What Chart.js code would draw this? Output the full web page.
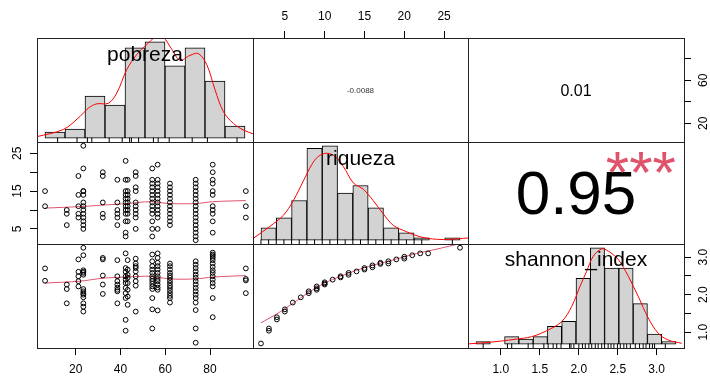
<!DOCTYPE html>
<html>
<head>
<meta charset="utf-8">
<title>chart.Correlation</title>
<script src="https://cdn.jsdelivr.net/npm/chart.js@4.4.0/dist/chart.umd.min.js"></script>
<style>
  html, body { margin: 0; padding: 0; background: #fff; }
  #wrap { position: relative; width: 710px; height: 376px; overflow: hidden; }
  #wrap canvas { position: absolute; left: 0; top: 0; }
</style>
</head>
<body>
<div id="wrap"></div>
<script>
// ---- Datos ----
// pobreza: valores distintos (columnas de los diagramas de dispersión)
const pobCols = [6.3, 16.0, 21.2, 23.4, 32.1, 38.6, 42.3, 43.2, 46.8, 54.2, 56.6, 62.1, 73.6, 81.2, 96.0];

// riqueza de cada punto por columna de pobreza (fila 2, col 1)
const riqPorCol = [
  [15, 11],
  [10, 9, 6],
  [19, 14, 11, 9, 8],
  [27, 21, 15, 15, 14, 12, 11, 10, 9, 8, 7, 6, 5],
  [20, 19, 12, 9, 8],
  [18, 12, 10, 9, 8, 6],
  [23, 18, 15, 14, 13, 12, 11, 10, 9, 7, 4, 3],
  [18, 15, 14, 13, 12, 11, 10, 9, 7],
  [20, 19, 16, 15, 12, 11, 10, 9, 8, 5],
  [21, 18, 17, 16, 15, 14, 13, 12, 11, 10, 9, 7, 5, 3],
  [22, 18, 17, 16, 15, 14, 13, 12, 11, 10, 9, 8, 5],
  [17, 16, 15, 14, 13, 12, 11, 10, 9, 8, 7, 6],
  [18, 17, 16, 15, 14, 13, 12, 11, 10, 9, 8, 7, 6, 5, 4, 3, 2],
  [22, 20, 18, 17, 15, 14, 11, 10, 9, 7, 4],
  [15, 11, 8]
];

// shannon_index de cada punto por columna de pobreza (fila 3, col 1)
const shanPorCol = [
  [2.70, 2.37],
  [2.27, 2.15, 1.77],
  [2.94, 2.61, 2.49, 2.36, 2.22],
  [3.25, 3.05, 2.65, 2.61, 2.58, 2.53, 2.15, 2.09, 2.04, 2.00, 1.93, 1.77, 1.68, 1.55],
  [2.98, 2.94, 2.51, 2.27, 2.02],
  [2.92, 2.49, 2.36, 2.27, 2.19, 2.13, 2.09, 1.77],
  [3.10, 2.71, 2.61, 2.49, 2.40, 2.31, 2.18, 2.04, 1.91, 1.33, 1.04],
  [2.92, 2.67, 2.53, 2.45, 2.31, 2.13, 1.95, 1.73],
  [2.96, 2.83, 2.76, 2.71, 2.62, 2.49, 2.36, 2.24, 1.55],
  [3.07, 2.89, 2.76, 2.67, 2.58, 2.49, 2.42, 2.36, 2.29, 2.22, 2.15, 1.91, 1.61, 1.10],
  [3.10, 2.98, 2.85, 2.76, 2.67, 2.58, 2.49, 2.42, 2.36, 2.27, 2.19, 2.13, 1.58],
  [2.83, 2.76, 2.67, 2.58, 2.51, 2.45, 2.38, 2.31, 2.24, 2.18, 2.11, 2.04, 1.97, 1.91, 1.79],
  [2.89, 2.80, 2.71, 2.62, 2.53, 2.45, 2.36, 2.27, 2.18, 2.09, 2.00, 1.91, 1.79, 1.59, 1.10, 0.72],
  [3.12, 3.07, 3.03, 2.98, 2.92, 2.83, 2.74, 2.65, 2.58, 2.49, 2.40, 2.31, 2.22, 1.91, 1.40],
  [2.70, 2.42, 2.38, 2.04]
];

// riqueza vs shannon_index (fila 3, col 2)
const rsRiqueza = [2, 3, 3, 4, 4, 5, 5, 6, 7, 8, 8, 9, 9, 9, 10, 10, 10, 11, 12, 12, 13, 13, 14, 15, 15, 16, 16, 17, 17, 18, 18, 19, 20, 20, 21, 22, 23, 27];
const rsShannon = [0.70, 1.10, 1.04, 1.40, 1.34, 1.61, 1.55, 1.79, 1.93, 2.09, 2.04, 2.22, 2.17, 2.13, 2.33, 2.30, 2.27, 2.40, 2.49, 2.46, 2.58, 2.53, 2.62, 2.71, 2.67, 2.78, 2.73, 2.85, 2.82, 2.89, 2.83, 2.94, 3.01, 2.96, 3.05, 3.10, 3.10, 3.25];

// curvas de suavizado (rojo) de los paneles inferiores
const smPobX = [6.3, 21.9, 32.3, 42.8, 53.2, 62.1, 73.6, 81.2, 96];
const smPobRiq = [10.5, 10.9, 11.3, 11.7, 12.2, 11.7, 11.7, 12.2, 12.5];
const smPobShan = [2.31, 2.36, 2.44, 2.47, 2.49, 2.42, 2.42, 2.47, 2.51];
const smRiqX = [2.0, 4.0, 6.0, 8.0, 10.0, 12.0, 14.0, 16.0, 18.0, 20.0, 22.0, 24.0, 27.0];
const smRiqShan = [1.25, 1.49, 1.77, 2.06, 2.31, 2.49, 2.65, 2.78, 2.89, 3.01, 3.12, 3.21, 3.36];

// histogramas (cortes y frecuencias)
const pobBreaks = [0, 10, 20, 30, 40, 50, 60, 70, 80, 90, 100];
const pobCounts = [2, 3, 14, 11, 30, 32, 24, 30, 19, 4];
const riqBreaks = [2, 4, 6, 8, 10, 12, 14, 16, 18, 20, 22, 24, 26, 28];
const riqCounts = [5, 9, 16, 37, 38, 19, 22, 13, 5, 3, 1, 0, 1];
const shanBreaks = [0.6, 0.8, 1.0, 1.2, 1.4, 1.6, 1.8, 2.0, 2.2, 2.4, 2.6, 2.8, 3.0, 3.2, 3.4];
const shanCounts = [1, 0, 3, 2, 3, 7, 9, 26, 38, 30, 30, 16, 4, 1];

// densidades (rojo) en las mismas unidades que las frecuencias
const pobDensX = [-4.2, 9.2, 17.5, 21.7, 25.9, 31.7, 35.9, 40.9, 45.9, 50.9, 55, 59.2, 63.4, 67.5, 72.5, 76.7, 80.9, 85, 89.2, 94.2, 99.2, 104.2];
const pobDensY = [0.47, 2.9, 7.2, 10, 11.4, 11.6, 15, 22.8, 27.8, 31.1, 33.4, 33.4, 29.5, 25.9, 27.5, 28.1, 24.4, 16.1, 8.8, 4.9, 2.7, 1.4];
const riqDensX = [1.0, 3.18, 4.92, 6.22, 7.53, 8.63, 9.49, 10.59, 11.67, 12.75, 14.06, 15.37, 16.67, 17.98, 19.28, 21.03, 22.77, 24.95, 26.69, 28.43, 29.04];
const riqDensY = [0.75, 5.6, 10, 15.9, 23.8, 30.4, 33.7, 35, 33.7, 29.7, 23.1, 20.5, 15.9, 10.6, 6, 3.4, 1.4, 0.36, 0.36, 0.75, 0.87];
const shanDensX = [0.488, 0.726, 0.96, 1.146, 1.38, 1.612, 1.80, 1.94, 2.056, 2.15, 2.242, 2.36, 2.452, 2.592, 2.732, 2.872, 3.012, 3.152, 3.29, 3.48];
const shanDensY = [0.1, 0.58, 1.25, 1.92, 2.96, 5.6, 8.9, 14.9, 22.8, 28.8, 34.7, 37.6, 36.7, 33.4, 26.8, 18.8, 10.3, 4.3, 1.65, 0.34];

// marcas (rug) bajo los histogramas
const riqRug = [2, 3, 4, 5, 6, 7, 8, 9, 10, 11, 12, 13, 14, 15, 16, 17, 18, 19, 20, 21, 22, 23, 27];
const shanRug = [0.70, 1.04, 1.10, 1.33, 1.40, 1.55, 1.61, 1.68, 1.73, 1.79, 1.91, 1.93, 1.97, 2.04, 2.09, 2.13, 2.18, 2.22, 2.27, 2.31, 2.36, 2.40, 2.45, 2.49, 2.53, 2.58, 2.62, 2.67, 2.71, 2.76, 2.83, 2.89, 2.94, 2.98, 3.03, 3.07, 3.10, 3.25];

// ejes: rangos y marcas
const pobRange = [2.7, 99.2];
const riqRange = [1.0, 28.0];
const shanRange = [0.58, 3.35];
const pobTicks = [20, 40, 60, 80];
const riqTicks = [5, 10, 15, 20, 25];
const shanTicks = [1.0, 1.5, 2.0, 2.5, 3.0];

// textos de correlación
const corr = { pobRiq: '-0.0088', pobShan: '0.01', riqShan: '0.95', riqShanSig: '***' };

// ---- Construcción ----
const W = 710, H = 376;
const colX = [37, 253, 468, 684];
const rowY = [38, 142, 244, 348];
const FONT = "'Liberation Sans', Arial, sans-serif";
Chart.defaults.font.family = FONT;
const RED = '#FF0000';
const SMOOTH = '#DF536B';

const framePlugin = {
    id: 'frame',
    afterDatasetsDraw(chart) {
        const a = chart.chartArea, ctx = chart.ctx;
        ctx.save();
        ctx.strokeStyle = '#222';
        ctx.lineWidth = 1;
        ctx.strokeRect(Math.round(a.left) + 0.5, Math.round(a.top) + 0.5,
            Math.round(a.right - a.left), Math.round(a.bottom - a.top));
        ctx.restore();
    }
};

// texto centrado en coordenadas relativas del panel (0..1)
function textPlugin(items) {
    return {
        id: 'panelText',
        afterDraw(chart) {
            const a = chart.chartArea, ctx = chart.ctx;
            items.forEach(t => {
                ctx.save();
                ctx.font = `${t.size}px ${FONT}`;
                ctx.fillStyle = t.color || '#000';
                ctx.textAlign = 'center';
                ctx.textBaseline = 'alphabetic';
                const m = ctx.measureText(t.text);
                const x = a.left + t.fx * (a.right - a.left);
                const y = a.bottom - t.fy * (a.bottom - a.top);
                ctx.fillText(t.text, x, y + (m.actualBoundingBoxAscent - m.actualBoundingBoxDescent) / 2);
                ctx.restore();
            });
        }
    };
}

function hidden(min, max) {
    return { type: 'linear', display: false, offset: false, min, max };
}

function axis(pos, range, ticks, labels, pad) {
    const horiz = pos === 'top' || pos === 'bottom';
    const size = { left: colX[0], right: W - colX[3], top: rowY[0], bottom: H - rowY[3] }[pos];
    return {
        type: 'linear', position: pos, min: range[0], max: range[1], offset: false,
        afterBuildTicks: s => { s.ticks = ticks.map(v => ({ value: v })); },
        afterFit: s => { if (horiz) s.height = size; else s.width = size; },
        grid: { drawOnChartArea: false, drawTicks: true, tickLength: 7, color: '#000', tickColor: '#000', lineWidth: 1 },
        border: { display: false },
        ticks: Object.assign({
            autoSkip: false, padding: pad, color: '#000', font: { size: 12 },
            callback: (v, i) => labels[i]
        }, horiz ? {} : { minRotation: 90, maxRotation: 90, crossAlign: 'center' })
    };
}

function histScales(breaks, counts) {
    const ext = 0.04 * (breaks[breaks.length - 1] - breaks[0]);
    const m = Math.max(...counts);
    return {
        x: {
            type: 'linear', display: false, offset: false,
            min: breaks[0] - ext, max: breaks[breaks.length - 1] + ext,
            afterBuildTicks: s => { s.ticks = breaks.map(v => ({ value: v })); }
        },
        y: hidden(-0.04 * m, 1.04 * m)
    };
}

function histDatasets(breaks, counts, densX, densY, rug) {
    const m = Math.max(...counts);
    return [
        {
            type: 'scatter', data: rug.map(v => ({ x: v, y: -0.04 * m })),
            pointStyle: 'line', rotation: 90, pointRadius: 4.5, borderColor: '#000', borderWidth: 1, clip: 0
        },
        {
            type: 'line', data: densX.map((x, i) => ({ x, y: densY[i] })),
            borderColor: RED, borderWidth: 1, pointRadius: 0, tension: 0.35, fill: false, clip: 0
        },
        {
            type: 'bar', data: counts.map((c, i) => ({ x: (breaks[i] + breaks[i + 1]) / 2, y: c })),
            backgroundColor: '#D3D3D3', borderColor: '#000', borderWidth: 1, borderSkipped: false,
            barPercentage: 1, categoryPercentage: 1, grouped: false, order: 3
        }
    ];
}

function pointsByCol(cols, vals) {
    const pts = [];
    cols.forEach((x, i) => vals[i].forEach(y => pts.push({ x, y })));
    return pts;
}

function scatterDatasets(pts, smX, smY) {
    return [
        {
            type: 'scatter', data: pts, pointRadius: 2.4, pointBorderWidth: 1,
            borderColor: '#000', backgroundColor: 'rgba(0,0,0,0)', clip: 0
        },
        {
            type: 'line', data: smX.map((x, i) => ({ x, y: smY[i] })),
            borderColor: SMOOTH, borderWidth: 1, pointRadius: 0, tension: 0.3, fill: false, clip: 0
        }
    ];
}

function panel(r, c, sides, scales, datasets, texts) {
    const cv = document.createElement('canvas');
    cv.width = W; cv.height = H;
    document.getElementById('wrap').appendChild(cv);
    new Chart(cv.getContext('2d'), {
        type: 'scatter',
        data: { datasets },
        options: {
            responsive: false, animation: false, events: [],
            layout: {
                padding: {
                    left: sides.left ? 0 : colX[c],
                    right: sides.right ? 0 : W - colX[c + 1],
                    top: sides.top ? 0 : rowY[r],
                    bottom: sides.bottom ? 0 : H - rowY[r + 1]
                }
            },
            plugins: { legend: { display: false }, tooltip: { enabled: false } },
            scales
        },
        plugins: [framePlugin, textPlugin(texts || [])]
    });
}

// diagonal: histogramas
panel(0, 0, {}, histScales(pobBreaks, pobCounts),
    histDatasets(pobBreaks, pobCounts, pobDensX, pobDensY, pobCols),
    [{ text: 'pobreza', fx: 0.5, fy: 0.833, size: 21 }]);
panel(1, 1, {}, histScales(riqBreaks, riqCounts),
    histDatasets(riqBreaks, riqCounts, riqDensX, riqDensY, riqRug),
    [{ text: 'riqueza', fx: 0.5, fy: 0.833, size: 21 }]);
panel(2, 2, { bottom: true, right: true },
    Object.assign(histScales(shanBreaks, shanCounts), {
        xa: axis('bottom', shanRange, shanTicks, ['1.0', '1.5', '2.0', '2.5', '3.0'], 7),
        ya: axis('right', shanRange, shanTicks, ['1.0', '', '2.0', '', '3.0'], 4)
    }),
    histDatasets(shanBreaks, shanCounts, shanDensX, shanDensY, shanRug),
    [{ text: 'shannon_index', fx: 0.5, fy: 0.833, size: 21 }]);

// triángulo superior: correlaciones
panel(0, 1, { top: true }, {
    x: axis('top', riqRange, riqTicks, ['5', '10', '15', '20', '25'], 7),
    y: hidden(0, 1)
}, [], [{ text: corr.pobRiq, fx: 0.5, fy: 0.5, size: 8, color: '#333' }]);
panel(0, 2, { right: true }, {
    x: hidden(0, 1),
    y: axis('right', pobRange, pobTicks, ['20', '', '60', ''], 6)
}, [], [{ text: corr.pobShan, fx: 0.5, fy: 0.5, size: 16 }]);
panel(1, 2, {}, { x: hidden(0, 1), y: hidden(0, 1) }, [], [
    { text: corr.riqShan, fx: 0.5, fy: 0.5, size: 62 },
    { text: corr.riqShanSig, fx: 0.8, fy: 0.8, size: 60, color: SMOOTH }
]);

// triángulo inferior: dispersión
panel(1, 0, { left: true }, {
    x: hidden(pobRange[0], pobRange[1]),
    y: axis('left', riqRange, riqTicks, ['5', '', '15', '', '25'], 6)
}, scatterDatasets(pointsByCol(pobCols, riqPorCol), smPobX, smPobRiq));
panel(2, 0, { bottom: true }, {
    x: axis('bottom', pobRange, pobTicks, ['20', '40', '60', '80'], 7),
    y: hidden(shanRange[0], shanRange[1])
}, scatterDatasets(pointsByCol(pobCols, shanPorCol), smPobX, smPobShan));
panel(2, 1, {}, {
    x: hidden(riqRange[0], riqRange[1]),
    y: hidden(shanRange[0], shanRange[1])
}, scatterDatasets(rsRiqueza.map((x, i) => ({ x, y: rsShannon[i] })), smRiqX, smRiqShan));
</script>
</body>
</html>
